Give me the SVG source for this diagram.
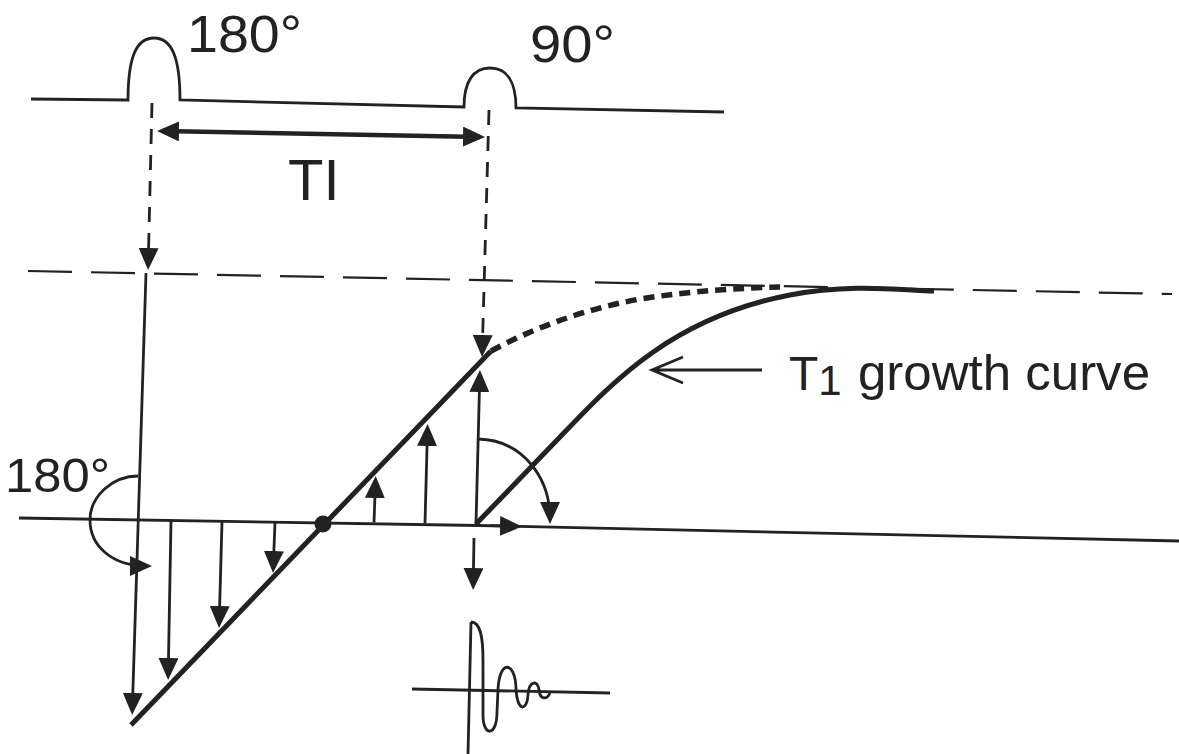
<svg xmlns="http://www.w3.org/2000/svg" width="1179" height="754" viewBox="0 0 1179 754">
<defs>
<style>
.ln{fill:none;stroke:#222222;stroke-width:2.8}
.thk{fill:none;stroke:#222222;stroke-width:5}
.dv{fill:none;stroke:#222222;stroke-width:2.8;stroke-dasharray:15 11}
.dh{fill:none;stroke:#222222;stroke-width:2.2;stroke-dasharray:44 19}
.dc{fill:none;stroke:#222222;stroke-width:5.5;stroke-dasharray:11 7}
.t{font-family:"Liberation Sans",Arial,Helvetica,sans-serif;fill:#222222}
.arr{marker-end:url(#ah)}
</style>
<marker id="ah" viewBox="0 0 22 20" refX="17" refY="10" markerWidth="22" markerHeight="20" markerUnits="userSpaceOnUse" orient="auto-start-reverse">
<path d="M0,0 L22,10 L0,20 z" fill="#222222"/>
</marker>
</defs>
<rect width="1179" height="754" fill="#ffffff"/>

<g id="pulse-sequence">
<path class="ln" d="M31,99 L128,100 C128,58 136,38 154,38 C172,38 180,58 180,100 L464,107 C464,82 473,68 490,68 C507,68 516,82 516,108 L724,112"/>
<text class="t" x="187" y="52" font-size="52" textLength="115" lengthAdjust="spacingAndGlyphs">180°</text>
<text class="t" x="530" y="62" font-size="52" textLength="85" lengthAdjust="spacingAndGlyphs">90°</text>
</g>

<g id="ti-interval">
<path class="ln" style="stroke-width:4.5" d="M162,131.1 L480,136.9" marker-start="url(#ah)" marker-end="url(#ah)"/>
<text class="t" x="288" y="200" font-size="58">TI</text>
</g>

<g id="connectors">
<path class="dv arr" d="M152,103 L148.2,265"/>
<path class="dv arr" d="M489,110 L482.2,352"/>
<path class="dh" d="M28,271 L1172,294"/>
<path class="ln arr" d="M146,273 L132.3,710"/>
<path class="ln" d="M19,518 L478,525.5 L1179,541"/>
<path class="ln arr" d="M490,525.7 L517,526.4"/>
<path class="ln arr" d="M476,524 L479.8,375"/>
<path class="ln arr" d="M374,522.5 L375.5,481"/>
<path class="ln arr" d="M425,523.5 L427.5,429"/>
<path class="ln arr" d="M171,521 L168.2,675"/>
<path class="ln arr" d="M222,521.5 L219.2,623"/>
<path class="ln arr" d="M275,522.5 L273.2,568"/>
<path class="ln arr" d="M474,538 L473.2,585"/>
<path class="ln arr" d="M478,439 C523,440 550,478 550,519"/>
<path class="ln arr" d="M138,476 C113,476 90,496 90,520 C90,546 112,566 147,566"/>
</g>

<g id="magnetization">
<path class="thk" d="M131,725 L491,351"/>
<path class="dc" d="M491,351 C530,330 580,310 640,299 C690,291 740,288 782,287"/>
<path class="thk" d="M476,524 L560,437 C610,385 670,318 790,295 C850,283.5 900,290 934,291"/>
<circle cx="323" cy="524" r="8.5" fill="#222222"/>
<text class="t" x="5" y="492" font-size="49" textLength="105" lengthAdjust="spacingAndGlyphs">180°</text>
</g>

<g id="t1-label">
<path class="ln" d="M652,370 L762,370 M683,357 L652,370 L683,383"/>
<text class="t" x="789" y="390" font-size="48">T<tspan font-size="42" dy="5">1</tspan><tspan x="858" dy="-5" font-size="50" textLength="292" lengthAdjust="spacingAndGlyphs">growth curve</tspan></text>
</g>

<g id="fid-signal">
<path class="ln" d="M412,689 L610,693"/>
<path class="ln" d="M471,622 L468,754"/>
<path class="ln" d="M471,622 C480,622 483,635 483,660 L483,715 C483,737 497,737 497,712 L498,690 C499,660 515,660 516,688 C517,712 527,712 528,695 C529,680 538,680 539,690 C540,700 547,700 550,693"/>
</g>
</svg>
